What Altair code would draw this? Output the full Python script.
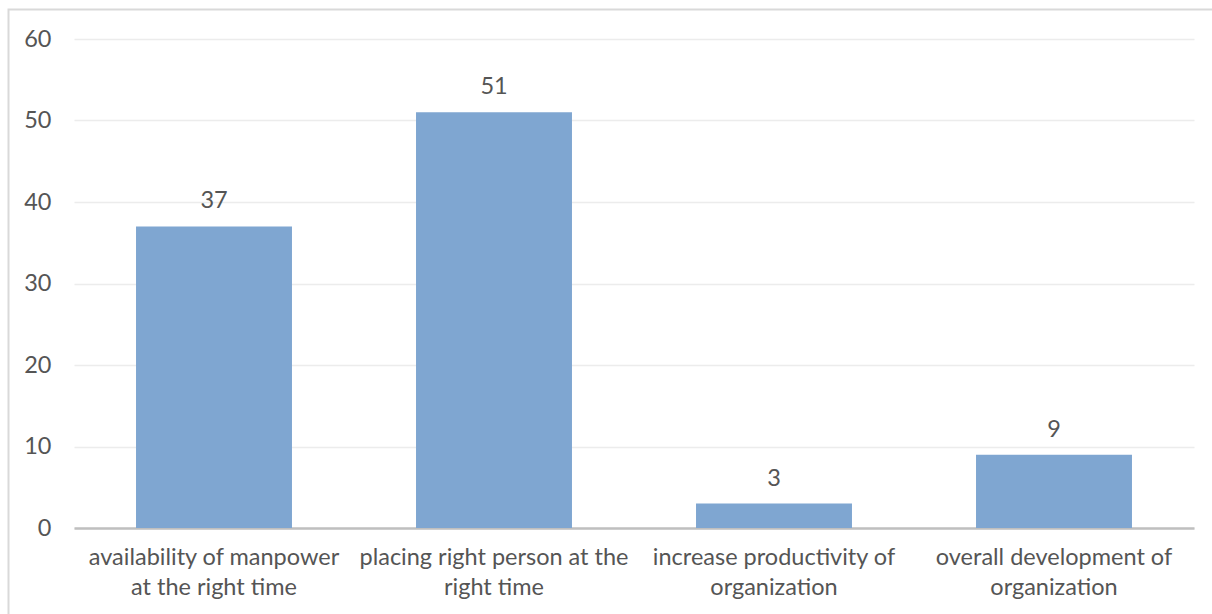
import altair as alt
import pandas as pd

categories = [
    "availability of manpower at the right time",
    "placing right person at the right time",
    "increase productivity of organization",
    "overall development of organization",
]
label_lines = [
    ["availability of manpower", "at the right time"],
    ["placing right person at the", "right time"],
    ["increase productivity of", "organization"],
    ["overall development of", "organization"],
]
values = [37, 51, 3, 9]
y_ticks = [0, 10, 20, 30, 40, 50, 60]

df = pd.DataFrame({"category": categories, "value": values})

label_expr = ""
for cat, lines in zip(categories, label_lines):
    arr = "[" + ", ".join("'" + l + "'" for l in lines) + "]"
    label_expr += f"datum.label == '{cat}' ? {arr} : "
label_expr += "datum.label"

FONT = "Lato"
TXT = "#555555"
FS = 23.5

W, H = 1120, 489
PL, PT = 74, 39

x = alt.X(
    "category:N",
    sort=categories,
    title=None,
    scale=alt.Scale(paddingInner=0.443, paddingOuter=0.2215),
    axis=alt.Axis(
        labelExpr=label_expr,
        labelAngle=0,
        labelFont=FONT,
        labelFontSize=FS,
        labelColor=TXT,
        labelLineHeight=30,
        labelPadding=17,
        ticks=False,
        domain=True,
        domainColor="#BFBFBF",
        domainWidth=2.5,
        grid=False,
        labelLimit=400,
    ),
)
y = alt.Y(
    "value:Q",
    title=None,
    scale=alt.Scale(domain=[0, 60], nice=False),
    axis=alt.Axis(
        values=y_ticks,
        labelFont=FONT,
        labelFontSize=FS,
        labelColor=TXT,
        labelPadding=23,
        ticks=False,
        domain=False,
        gridColor="#ECECEC",
        gridWidth=1.3,
    ),
)

bars = alt.Chart(df).mark_bar(color="#7FA6D1").encode(x=x, y=y)
labels = alt.Chart(df).mark_text(
    font=FONT, fontSize=FS, color=TXT, baseline="middle", dy=-25
).encode(x=alt.X("category:N", sort=categories), y="value:Q", text="value:Q")

border = alt.Chart(pd.DataFrame({"a": [0]})).mark_rect(
    fill=None, stroke="#D9D9D9", strokeWidth=2
).encode(
    x=alt.value(8.5 - PL),
    x2=alt.value(1230 - PL),
    y=alt.value(9.5 - PT),
    y2=alt.value(640 - PT),
)

chart = (
    alt.layer(border, bars, labels)
    .properties(
        width=W,
        height=H,
        padding={"left": PL, "top": PT, "right": 1212 - PL - W, "bottom": 614 - PT - H},
        autosize=alt.AutoSizeParams(type="none"),
        background="white",
    )
    .configure_view(stroke=None)
)

chart.save("out.html", embed_options={"renderer": "svg", "actions": False})
